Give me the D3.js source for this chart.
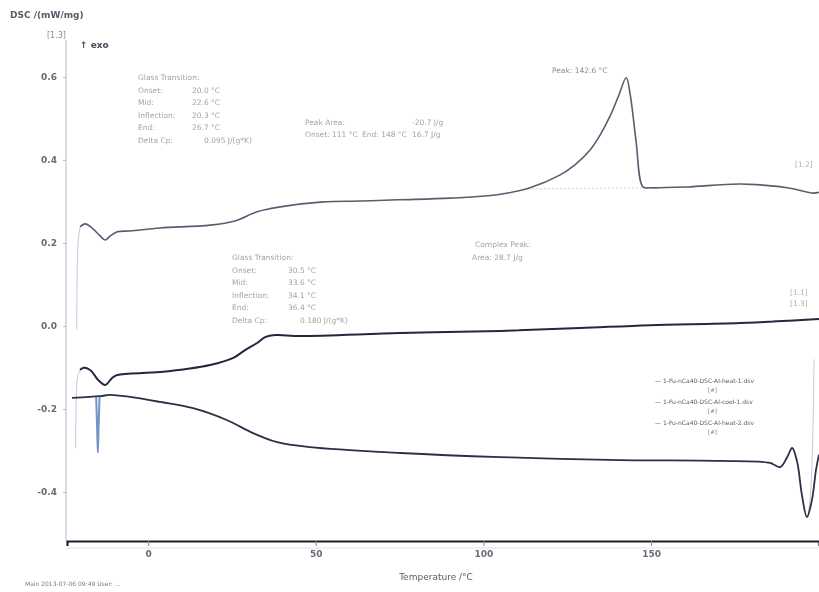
<!DOCTYPE html>
<html><head><meta charset="utf-8">
<script src="https://cdn.jsdelivr.net/npm/d3@7/dist/d3.min.js"></script>
<style>body{margin:0;background:#fff}svg{display:block}</style>
</head><body>
<svg id="c" width="819" height="592"></svg>
<script>
// ---- data (Temperature °C, DSC mW/mg) ----
const xTicks = [0, 50, 100, 150];
const yTicks = [0.6, 0.4, 0.2, 0.0, -0.2, -0.4];
const curveTop = [[-20.3,0.239],[-18.8,0.246],[-16.7,0.236],[-14.3,0.217],[-12.8,0.207],[-11.3,0.217],[-9.2,0.227],[-5.4,0.229],[3.6,0.236],[18.5,0.243],[25.9,0.253],[32.5,0.275],[39.4,0.287],[52.2,0.299],[63.2,0.301],[74.3,0.304],[90.1,0.308],[104.1,0.316],[113.9,0.333],[122.9,0.364],[127.3,0.388],[131.8,0.424],[134.8,0.460],[137.8,0.506],[140.3,0.554],[142.6,0.598],[143.8,0.557],[145.5,0.448],[147.6,0.335],[149.7,0.333],[160.8,0.335],[176.6,0.342],[190.6,0.333],[198.4,0.320],[200.1,0.322]];
const curveTopStart = [[-21.3,-0.010],[-21.2,0.10],[-20.9,0.20],[-20.3,0.239]];
const curveMid = [[-20.3,-0.106],[-19.4,-0.101],[-17.3,-0.106],[-14.9,-0.130],[-12.8,-0.142],[-10.7,-0.125],[-9.2,-0.118],[3.6,-0.111],[18.5,-0.094],[25.4,-0.077],[28.9,-0.058],[32.5,-0.041],[34.9,-0.027],[37.9,-0.022],[45.3,-0.024],[75.2,-0.017],[105.0,-0.012],[128.8,-0.005],[149.7,0.002],[176.6,0.007],[200.1,0.017]];
const curveMidStart = [[-21.6,-0.295],[-21.5,-0.20],[-21.0,-0.12],[-20.3,-0.106]];
const curveBot = [[-22.7,-0.173],[-14.3,-0.169],[-11.3,-0.166],[-5.4,-0.171],[3.6,-0.183],[13.4,-0.198],[23.6,-0.227],[31.3,-0.258],[38.5,-0.280],[48.3,-0.292],[75.2,-0.306],[105.0,-0.316],[140.8,-0.323],[170.6,-0.325],[185.5,-0.330],[188.5,-0.340],[190.6,-0.316],[192.1,-0.294],[193.6,-0.328],[195.0,-0.407],[196.5,-0.460],[198.0,-0.419],[199.2,-0.347],[200.1,-0.310]];
const curveBlue = [[-15.5,-0.171],[-15.2,-0.25],[-15.0,-0.305],[-14.8,-0.25],[-14.5,-0.171]];
const curveRight = [[198.6,-0.08],[198.3,-0.25],[197.6,-0.40],[196.8,-0.46]];
const peakBase = [[112,0.330],[147.6,0.333]];
const gt1 = ["Glass Transition:","Onset:","Mid:","Inflection:","End:","Delta Cp:"];
const gt1v = ["","20.0 °C","22.6 °C","20.3 °C","26.7 °C","0.095 J/(g*K)"];
const gt2v = ["","30.5 °C","33.6 °C","34.1 °C","36.4 °C","0.180 J/(g*K)"];
const legendLines = ["— 1-Fu-nCa40-DSC-Al-heat-1.dsv","— 1-Fu-nCa40-DSC-Al-cool-1.dsv","— 1-Fu-nCa40-DSC-Al-heat-2.dsv"];

const svg = d3.select("#c");
const defs = svg.append("defs");
defs.append("filter").attr("id","bl").append("feGaussianBlur").attr("stdDeviation",0.7);
const g = svg.append("g").attr("filter","url(#bl)");

const x = d3.scaleLinear().domain([-24.2, 200.1]).range([67, 819]);
const y = d3.scaleLinear().domain([-0.518, 0.689]).range([541, 40]);
const line = d3.line().x(d=>x(d[0])).y(d=>y(d[1])).curve(d3.curveCatmullRom);

// axes
g.append("line").attr("x1",66).attr("x2",66).attr("y1",40).attr("y2",541).attr("stroke","#d4cce0").attr("stroke-width",1.5);
const yAx = g.append("g").attr("transform","translate(66,0)").call(d3.axisLeft(y).tickValues(yTicks).tickSize(3).tickFormat(d => d3.format(".1f")(d).replace("−","-")));
yAx.select(".domain").remove();
yAx.selectAll("line").attr("stroke","#c0b8cc");
yAx.selectAll("text").attr("font-family","DejaVu Sans").attr("font-size",9).attr("font-weight","bold").attr("fill","#6a6a78").attr("dx",-3);
const xAx = g.append("g").attr("transform","translate(0,541)").call(d3.axisBottom(x).tickValues(xTicks).tickSize(5).tickFormat(d3.format("d")));
xAx.select(".domain").attr("stroke","#1e1e2a").attr("stroke-width",2.2);
xAx.selectAll("line").attr("stroke","#8a8a98");
xAx.selectAll("text").attr("font-family","DejaVu Sans").attr("font-size",9).attr("font-weight","bold").attr("fill","#6a6a78").attr("dy",8);
g.append("line").attr("x1",67).attr("x2",819).attr("y1",548).attr("y2",548).attr("stroke","#e4e0ea").attr("stroke-width",1);

g.append("text").attr("x",436).attr("y",580).attr("text-anchor","middle").attr("font-family","DejaVu Sans").attr("font-size",9).attr("fill","#5a5a6a").text("Temperature /°C");
g.append("text").attr("x",10).attr("y",18).attr("font-family","DejaVu Sans").attr("font-size",9).attr("font-weight","bold").attr("fill","#5a5a6a").text("DSC /(mW/mg)");
g.append("text").attr("x",47).attr("y",38).attr("font-family","DejaVu Sans").attr("font-size",8).attr("fill","#8a8a98").text("[1.3]");
g.append("text").attr("x",80).attr("y",48).attr("font-family","DejaVu Sans").attr("font-size",9).attr("font-weight","bold").attr("fill","#4a4a5a").text("↑ exo");
g.append("text").attr("x",25).attr("y",586).attr("font-family","DejaVu Sans").attr("font-size",6).attr("fill","#7a7a88").text("Main   2013-07-06 09:49   User: ...");

// curves
g.append("path").attr("d",line(curveTopStart)).attr("fill","none").attr("stroke","#c8c8d4").attr("stroke-width",1);
g.append("path").attr("d",line(curveMidStart)).attr("fill","none").attr("stroke","#c8c8d4").attr("stroke-width",1);
g.append("path").attr("d",line(curveRight)).attr("fill","none").attr("stroke","#c8c8d4").attr("stroke-width",1);
g.append("path").attr("d",d3.line().x(d=>x(d[0])).y(d=>y(d[1]))(peakBase)).attr("fill","none").attr("stroke","#c4d0c4").attr("stroke-width",1).attr("stroke-dasharray","2,2");
g.append("path").attr("d",line(curveTop)).attr("fill","none").attr("stroke","#5c5c70").attr("stroke-width",1.6);
g.append("path").attr("d",line(curveMid)).attr("fill","none").attr("stroke","#26263c").attr("stroke-width",2);
g.append("path").attr("d",line(curveBot)).attr("fill","none").attr("stroke","#2e2e46").attr("stroke-width",1.8);
g.append("path").attr("d",line(curveBlue)).attr("fill","none").attr("stroke","#6f96c6").attr("stroke-width",2);

// annotations
const ann = (x0, y0, labels, vals, vx) => {
  labels.forEach((t,i)=>{
    g.append("text").attr("x",x0).attr("y",y0+i*12.5).attr("font-family","DejaVu Sans").attr("font-size",7.5).attr("fill","#9aaa9a").text(t);
    if (vals[i]) g.append("text").attr("x",vx + (i===5?12:0)).attr("y",y0+i*12.5).attr("font-family","DejaVu Sans").attr("font-size",7.5).attr("fill","#9aaa9a").text(vals[i]);
  });
};
ann(138, 80, gt1, gt1v, 192);
ann(232, 260, gt1, gt2v, 288);
const t = (xx,yy,s,c) => g.append("text").attr("x",xx).attr("y",yy).attr("font-family","DejaVu Sans").attr("font-size",7.5).attr("fill",c||"#9aaa9a").text(s);
t(305,125,"Peak Area:"); t(412,125,"-20.7 J/g");
t(305,137,"Onset: 111 °C"); t(362,137,"End: 148 °C"); t(412,137,"16.7 J/g");
t(475,247,"Complex Peak:"); t(472,260,"Area: 28.7 J/g");
t(552,73,"Peak: 142.6 °C","#8a8a96");
t(795,167,"[1.2]","#b0b0bc"); t(790,295,"[1.1]","#b0b0bc"); t(790,306,"[1.3]","#b0b0bc");
legendLines.forEach((s,i)=>{
  g.append("text").attr("x",655).attr("y",383+i*21).attr("font-family","DejaVu Sans").attr("font-size",6).attr("fill","#5a5a6e").text(s);
  g.append("text").attr("x",708).attr("y",392+i*21).attr("font-family","DejaVu Sans").attr("font-size",5.5).attr("fill","#7a7a88").text("[#]");
});
</script>
</body></html>
